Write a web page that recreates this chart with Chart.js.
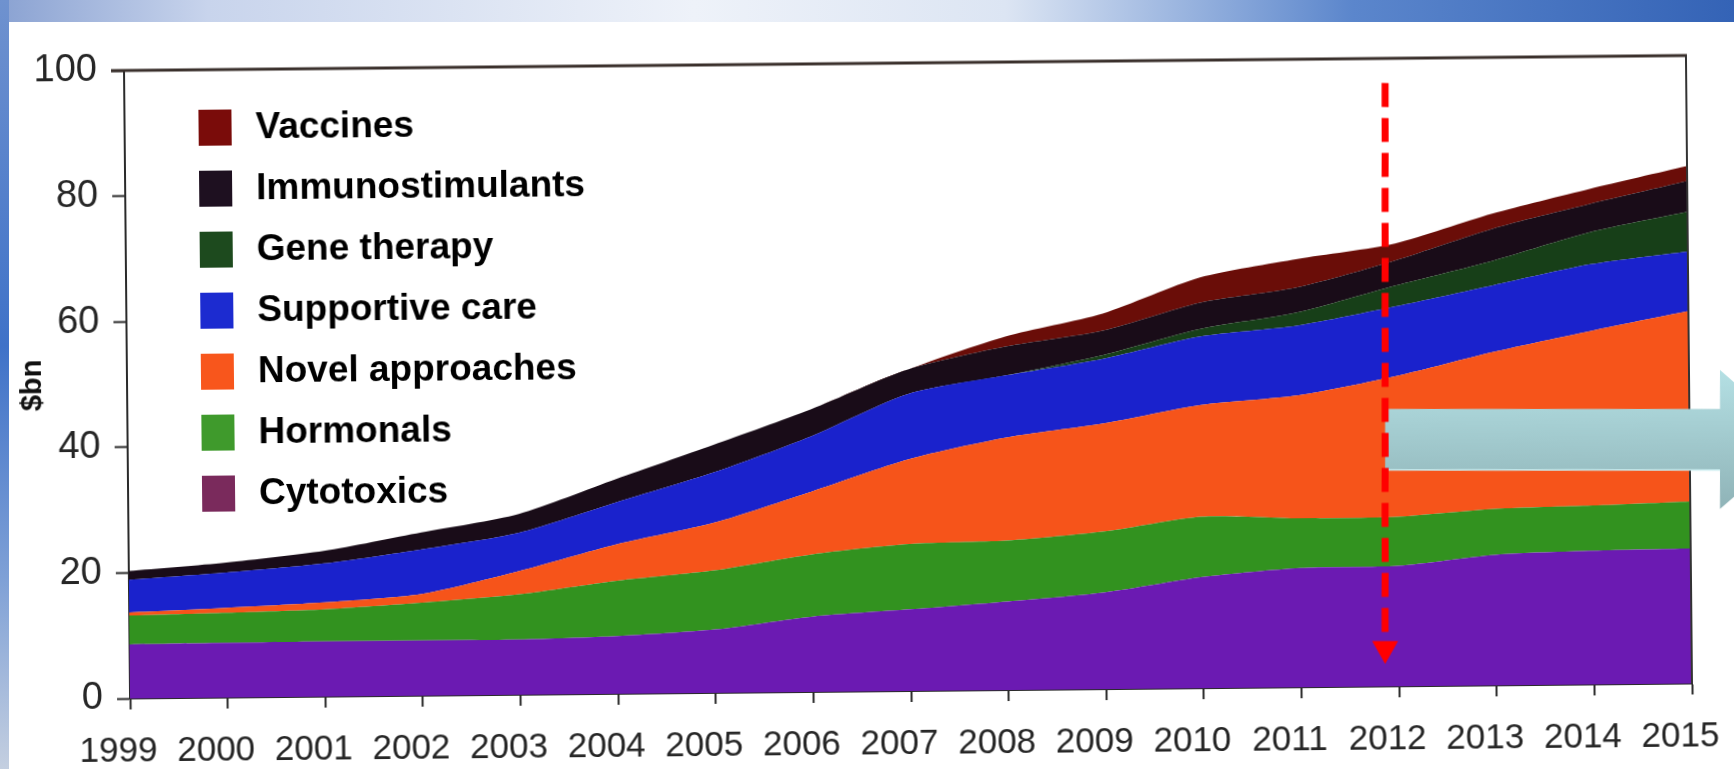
<!DOCTYPE html>
<html>
<head>
<meta charset="utf-8">
<script src="https://cdn.jsdelivr.net/npm/chart.js@4.4.1/dist/chart.umd.min.js"></script>
<style>
  html, body { margin: 0; padding: 0; width: 1734px; height: 769px; overflow: hidden; }
  body {
    position: relative;
    background: linear-gradient(to right, #8aa2d2 0%, #c8d4ec 12%, #eef2f9 40%, #dce5f3 58%, #5b86cc 78%, #3463b6 100%);
  }
  #leftStrip {
    position: absolute; left: 0; top: 0; width: 9px; height: 769px;
    background: linear-gradient(to bottom, #6f92cf 0%, #3f72c8 45%, #7ea0d6 75%, #c4cfe0 100%);
  }
  #panel { position: absolute; left: 9px; top: 22px; right: 0; bottom: 0; background: #fff; }
  #chartWrap {
    position: absolute; left: 0; top: 0; width: 1734px; height: 769px;
    transform: rotate(-0.55deg); transform-origin: 908px 377px;
  }
</style>
</head>
<body>
<div id="leftStrip"></div>
<div id="panel"></div>
<div id="chartWrap"><canvas id="marketChart" width="1734" height="769"></canvas></div>
<script>
// Oncology market by drug class, $bn, 1999-2015
const years = ["1999", "2000", "2001", "2002", "2003", "2004", "2005", "2006", "2007",
  "2008", "2009", "2010", "2011", "2012", "2013", "2014", "2015"]

const cytotoxics = [8.6, 8.7, 8.8, 8.8, 8.8, 9.2, 10.1, 12.0, 13.0, 14.1, 15.4, 17.7, 19.0, 19.2, 20.8, 21.3, 21.5]
const hormonals = [4.6, 4.8, 5.1, 6.0, 7.2, 8.8, 9.4, 9.9, 10.4, 9.7, 9.7, 9.6, 7.9, 7.8, 7.3, 7.2, 7.5]
const novelApproaches = [0.5, 0.8, 1.1, 1.4, 3.7, 5.8, 7.6, 10.0, 13.5, 16.4, 17.2, 17.8, 19.6, 22.4, 25.0, 27.8, 30.3]
const supportiveCare = [5.2, 5.6, 6.2, 7.1, 6.1, 6.7, 8.0, 8.8, 10.4, 9.9, 10.3, 10.9, 11.1, 11.1, 10.6, 10.6, 9.5]
const geneTherapy = [0, 0, 0, 0, 0, 0, 0, 0, 0, 0, 0.6, 1.2, 2.1, 3.3, 3.9, 5.1, 6.3]
const immunostimulants = [1.4, 1.6, 2.0, 2.7, 3.0, 3.7, 4.4, 4.3, 3.9, 4.6, 3.9, 4.2, 4.0, 4.0, 5.1, 4.5, 4.9]
const vaccines = [0, 0, 0, 0, 0, 0, 0, 0, 0, 1.6, 2.7, 4.0, 4.5, 2.7, 2.4, 2.4, 2.4]

const yTicks = [0, 20, 40, 60, 80, 100]

const FONT = "'Liberation Sans', Arial, sans-serif"
const SKEW = 0.55 * Math.PI / 180 // the canvas is turned by this much in CSS

function area(label, data, fillColor, swatch, fill) {
  return {
    label,
    data,
    fill,
    backgroundColor: fillColor,
    borderWidth: 0,
    pointRadius: 0,
    tension: 0.25,
    swatch,
  }
}

// square key drawn inside the plot, top row = top layer
const insideLegend = {
  id: "insideLegend",
  afterDatasetsDraw(chart) {
    const { ctx } = chart
    const sets = chart.data.datasets.slice().reverse()
    ctx.save()
    ctx.font = "bold 37px " + FONT
    ctx.textBaseline = "middle"
    sets.forEach((ds, i) => {
      const cy = 121 + i * 61
      ctx.fillStyle = ds.swatch
      ctx.fillRect(201, cy - 18, 33, 36)
      ctx.fillStyle = "#000"
      ctx.fillText(ds.label, 258, cy + 1)
    })
    ctx.restore()
  },
}

// top and right edges of the plot box
const plotFrame = {
  id: "plotFrame",
  afterDraw(chart) {
    const { ctx, chartArea } = chart
    const { left, top, right, bottom } = chartArea
    ctx.save()
    ctx.strokeStyle = "#3a302c"
    ctx.lineWidth = 3
    ctx.beginPath()
    ctx.moveTo(left - 13, top)
    ctx.lineTo(right + 1, top)
    ctx.stroke()
    ctx.strokeStyle = "#333"
    ctx.lineWidth = 2
    ctx.beginPath()
    ctx.moveTo(right, top)
    ctx.lineTo(right, bottom)
    ctx.stroke()
    ctx.restore()
  },
}

// slide overlays: teal block arrow and red dashed marker at 2012, drawn upright
const overlays = {
  id: "overlays",
  afterDraw(chart) {
    const { ctx } = chart
    const xs = chart.scales.x
    ctx.save()
    ctx.translate(908, 377)
    ctx.rotate(SKEW)
    ctx.translate(-908, -377)

    const mx = xs.getPixelForValue(years.indexOf("2012")) - 11

    // teal arrow
    const g = ctx.createLinearGradient(0, 370, 0, 509)
    g.addColorStop(0, "#b4e0e4")
    g.addColorStop(1, "#8fb3b7")
    ctx.fillStyle = g
    ctx.beginPath()
    ctx.moveTo(mx, 409)
    ctx.lineTo(1720, 409)
    ctx.lineTo(1720, 370)
    ctx.lineTo(1800, 440)
    ctx.lineTo(1720, 509)
    ctx.lineTo(1720, 470)
    ctx.lineTo(mx, 470)
    ctx.closePath()
    ctx.fill()
    ctx.strokeStyle = "#c8ecef"
    ctx.lineWidth = 1.5
    ctx.beginPath()
    ctx.moveTo(mx, 470)
    ctx.lineTo(1720, 470)
    ctx.stroke()

    // red dashed arrow
    ctx.strokeStyle = "#ff0000"
    ctx.lineWidth = 7
    ctx.setLineDash([24, 11])
    ctx.beginPath()
    ctx.moveTo(mx, 83)
    ctx.lineTo(mx, 640)
    ctx.stroke()
    ctx.setLineDash([])
    ctx.fillStyle = "#ff0000"
    ctx.beginPath()
    ctx.moveTo(mx - 13, 641)
    ctx.lineTo(mx + 13, 641)
    ctx.lineTo(mx, 664)
    ctx.closePath()
    ctx.fill()
    ctx.restore()
  },
}

const ctx = document.getElementById("marketChart")

new Chart(ctx, {
  type: "line",
  data: {
    labels: years,
    datasets: [
      area("Cytotoxics", cytotoxics, "#6b1ab2", "#7a2a5c", "origin"),
      area("Hormonals", hormonals, "#32921f", "#3f9a2c", "-1"),
      area("Novel approaches", novelApproaches, "#f6541a", "#f8561c", "-1"),
      area("Supportive care", supportiveCare, "#1a22cc", "#1c2bd0", "-1"),
      area("Gene therapy", geneTherapy, "#173f18", "#1d4a1e", "-1"),
      area("Immunostimulants", immunostimulants, "#190c18", "#1e1020", "-1"),
      area("Vaccines", vaccines, "#6a0d08", "#7a0c0a", "-1"),
    ],
  },
  options: {
    responsive: false,
    animation: false,
    layout: { padding: { left: 0, top: 63, right: 45, bottom: 0 } },
    plugins: {
      legend: { display: false },
      tooltip: { enabled: false },
    },
    scales: {
      x: {
        offset: false,
        grid: {
          drawOnChartArea: false,
          drawTicks: true,
          tickLength: 11,
          tickWidth: 2,
          tickColor: "#2a2a2a",
        },
        border: { color: "#2a2a2a", width: 2 },
        ticks: {
          autoSkip: false,
          maxRotation: 0,
          labelOffset: -12,
          padding: 21,
          color: "#262626",
          font: { family: FONT, size: 35 },
        },
        afterFit: (scale) => {
          scale.height = 78
          // the plot edges are set by layout padding, not by the end labels
          scale.paddingLeft = 0
          scale.paddingRight = 0
        },
      },
      y: {
        stacked: true,
        min: 0,
        max: 100,
        afterBuildTicks: (scale) => { scale.ticks = yTicks.map((v) => ({ value: v })) },
        grid: {
          drawOnChartArea: false,
          drawTicks: true,
          tickLength: 13,
          tickWidth: 2,
          tickColor: "#2a2a2a",
        },
        border: { color: "#2a2a2a", width: 2 },
        ticks: {
          padding: 14,
          color: "#262626",
          font: { family: FONT, size: 38 },
        },
        title: {
          display: true,
          text: "$bn",
          color: "#111",
          font: { family: FONT, size: 29, weight: "bold" },
          padding: { top: 16, bottom: 0 },
        },
        afterFit: (scale) => { scale.width = 127 },
      },
    },
  },
  plugins: [insideLegend, plotFrame, overlays],
})
</script>
</body>
</html>
